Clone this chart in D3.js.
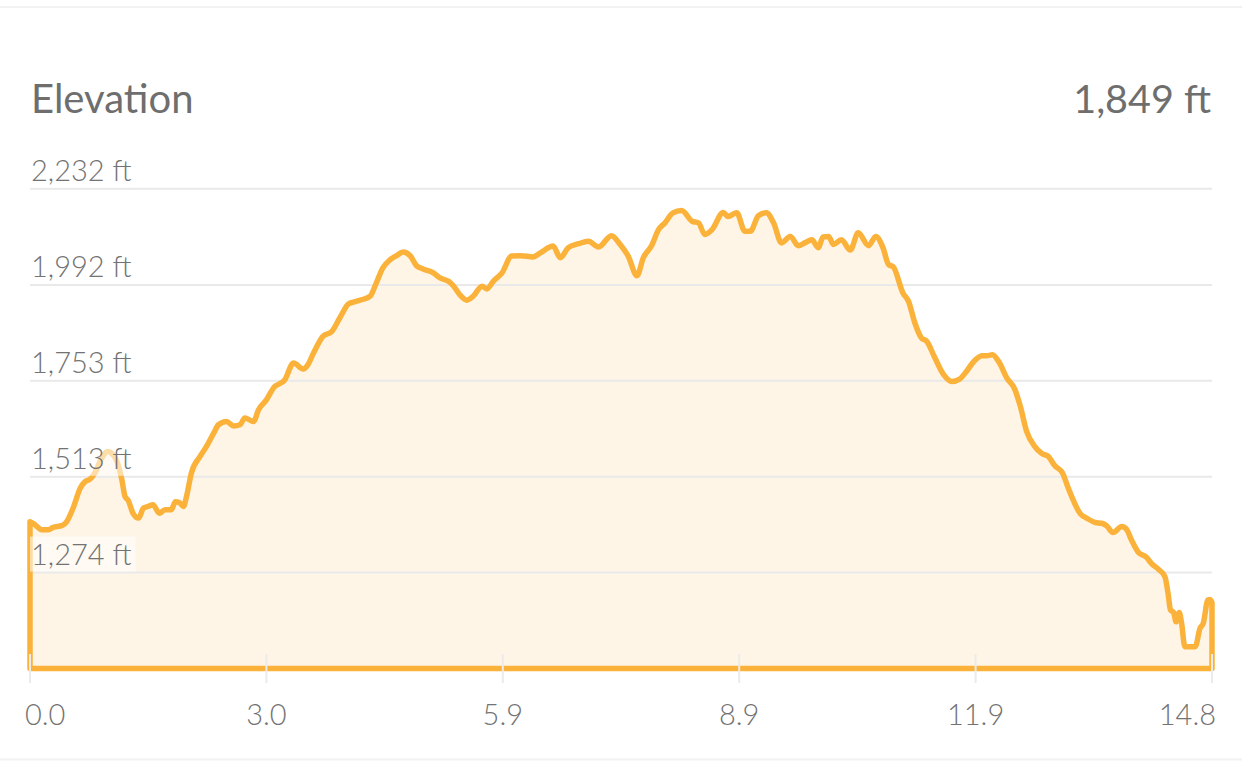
<!DOCTYPE html>
<html>
<head>
<meta charset="utf-8">
<script src="https://cdn.jsdelivr.net/npm/d3@7"></script>
<style>
  html, body { margin: 0; padding: 0; background: #ffffff; }
  svg { display: block; }
  text { font-family: Lato, "Open Sans", sans-serif; }
</style>
</head>
<body>
<svg id="chart" width="1242" height="784"></svg>
<script>
// ---- data ----
const titleText = "Elevation";
const headerValue = "1,849 ft";

const distances = [
  0, 0.04, 0.15, 0.23, 0.29, 0.40, 0.46, 0.54, 0.63, 0.69, 0.75, 0.81, 0.90, 0.97, 1.04, 1.11,
  1.15, 1.19, 1.23, 1.29, 1.36, 1.42, 1.48, 1.54, 1.62, 1.69, 1.77, 1.82, 1.87, 1.92, 1.96,
  2.02, 2.13, 2.21, 2.30, 2.36, 2.46, 2.55, 2.63, 2.69, 2.80, 2.86, 2.96, 3.05, 3.19, 3.30,
  3.42, 3.48, 3.55, 3.67, 3.78, 3.88, 3.99, 4.05, 4.15, 4.26, 4.32, 4.42, 4.51, 4.59, 4.67,
  4.76, 4.84, 4.92, 5.05, 5.13, 5.24, 5.30, 5.38, 5.47, 5.55, 5.66, 5.72, 5.80, 5.91, 6.03,
  6.14, 6.30, 6.39, 6.55, 6.64, 6.74, 6.87, 6.99, 7.12, 7.28, 7.39, 7.49, 7.60, 7.68, 7.78,
  7.87, 7.95, 8.05, 8.16, 8.29, 8.37, 8.45, 8.54, 8.68, 8.74, 8.85, 8.95, 9.02, 9.12, 9.22,
  9.31, 9.41, 9.52, 9.62, 9.70, 9.79, 9.87, 9.93, 10.00, 10.06, 10.16, 10.27, 10.37, 10.50,
  10.59, 10.68, 10.75, 10.81, 10.93, 11.00, 11.08, 11.16, 11.23, 11.33, 11.44, 11.54, 11.64,
  11.71, 11.81, 11.92, 11.98, 12.05, 12.14, 12.23, 12.33, 12.40, 12.48, 12.58, 12.67, 12.75,
  12.83, 12.93, 13.00, 13.06, 13.15, 13.23, 13.34, 13.42, 13.48, 13.56, 13.67, 13.73, 13.79,
  13.88, 13.98, 14.04, 14.13, 14.21, 14.25, 14.28, 14.32, 14.35, 14.39, 14.42, 14.46, 14.59,
  14.65, 14.69, 14.75, 14.78, 14.8
];

const elevations = [
  1401, 1397, 1381, 1381, 1387, 1391, 1401, 1435, 1485, 1501, 1507, 1522, 1560, 1576, 1568, 1539,
  1506, 1464, 1454, 1422, 1410, 1435, 1439, 1443, 1422, 1431, 1431, 1451, 1449, 1439, 1464,
  1522, 1564, 1589, 1622, 1643, 1651, 1640, 1643, 1660, 1651, 1680, 1705, 1735, 1755, 1797,
  1782, 1793, 1822, 1864, 1876, 1910, 1945, 1949, 1955, 1964, 1989, 2035, 2055, 2065, 2074,
  2065, 2040, 2032, 2022, 2010, 2001, 1990, 1968, 1954, 1964, 1989, 1982, 2001, 2022, 2064,
  2065, 2062, 2072, 2089, 2060, 2085, 2095, 2101, 2087, 2115, 2093, 2064, 2015, 2060, 2089,
  2130, 2147, 2172, 2178, 2151, 2147, 2118, 2130, 2173, 2163, 2172, 2126, 2126, 2165, 2172,
  2147, 2097, 2113, 2090, 2097, 2105, 2085, 2112, 2113, 2093, 2105, 2079, 2122, 2090,
  2113, 2085, 2043, 2037, 1972, 1951, 1897, 1860, 1851, 1810, 1768, 1751, 1757,
  1772, 1799, 1815, 1815, 1818, 1797, 1760, 1732, 1689, 1626, 1589, 1571, 1564,
  1541, 1522, 1485, 1456, 1421, 1410, 1399, 1397, 1391, 1374, 1389, 1382, 1356,
  1324, 1312, 1297, 1282, 1264, 1222, 1181, 1174, 1151, 1174, 1147, 1089, 1089,
  1135, 1147, 1206, 1206, 1199
];

const yTickValues = [2232, 1992, 1753, 1513, 1274];
const yTickLabels = ["2,232 ft", "1,992 ft", "1,753 ft", "1,513 ft", "1,274 ft"];
const xTickValues = [0, 2.96, 5.92, 8.88, 11.84, 14.8];
const xTickLabels = ["0.0", "3.0", "5.9", "8.9", "11.9", "14.8"];
const yDomain = [1034.5, 2232];
const xDomain = [0, 14.8];

(function () {
  const W = 1242;
  const plotLeft = 30, plotRight = 1212, plotTop = 188.8, plotBottom = 668.5;
  const svg = d3.select("#chart");

  const x = d3.scaleLinear().domain(xDomain).range([plotLeft, plotRight]);
  const y = d3.scaleLinear().domain(yDomain).range([plotBottom, plotTop]);

  const data = distances.map((d, i) => ({ d: d, e: elevations[i] }));

  // separators
  svg.append("line").attr("x1", 0).attr("x2", W).attr("y1", 7).attr("y2", 7)
    .attr("stroke", "#f2f2f2").attr("stroke-width", 2);
  svg.append("line").attr("x1", 0).attr("x2", W).attr("y1", 759.5).attr("y2", 759.5)
    .attr("stroke", "#f2f2f2").attr("stroke-width", 2);

  // header
  svg.append("text").attr("x", 31).attr("y", 113).attr("font-size", 40)
    .attr("fill", "#6e6e6e").text(titleText);
  svg.append("text").attr("x", 1211).attr("y", 113).attr("font-size", 39.5)
    .attr("text-anchor", "end").attr("fill", "#6e6e6e").text(headerValue);

  const area = d3.area().curve(d3.curveMonotoneX)
    .x(p => x(p.d)).y0(y(yDomain[0])).y1(p => y(p.e));

  // fill
  svg.append("path").datum(data).attr("d", area)
    .attr("fill", "#fef5e7").attr("stroke", "none");

  // gridlines
  svg.append("g").selectAll("line").data(yTickValues).join("line")
    .attr("x1", plotLeft).attr("x2", plotRight)
    .attr("y1", v => y(v)).attr("y2", v => y(v))
    .attr("stroke", "#e9e9e9").attr("stroke-width", 2);

  // outline
  svg.append("path").datum(data).attr("d", area)
    .attr("fill", "none").attr("stroke", "#fbb23a").attr("stroke-width", 5.5)
    .attr("stroke-linejoin", "round");

  // y labels with translucent backgrounds
  svg.append("g").selectAll("g").data(yTickValues).join("g").each(function (v, i) {
    const g = d3.select(this);
    const rect = g.append("rect");
    const t = g.append("text").attr("x", 31).attr("y", y(v) - 8)
      .attr("font-size", 29).attr("font-weight", 300).attr("fill", "#737373")
      .text(yTickLabels[i]);
    const bb = t.node().getBBox();
    rect.attr("x", plotLeft).attr("y", y(v) - 36).attr("width", bb.x + bb.width - plotLeft + 4)
      .attr("height", 35).attr("fill", "#ffffff").attr("fill-opacity", 0.55);
  });

  // x ticks
  svg.append("g").selectAll("line").data(xTickValues).join("line")
    .attr("x1", v => x(v)).attr("x2", v => x(v))
    .attr("y1", 654).attr("y2", 683)
    .attr("stroke", "#ebebeb").attr("stroke-width", 2);

  const last = xTickValues.length - 1;
  svg.append("g").selectAll("text").data(xTickValues).join("text")
    .attr("x", (v, i) => i === 0 ? x(v) - 5 : (i === last ? x(v) + 4 : x(v)))
    .attr("y", 725)
    .attr("text-anchor", (v, i) => i === 0 ? "start" : (i === last ? "end" : "middle"))
    .attr("font-size", 29).attr("font-weight", 300).attr("fill", "#737373")
    .text((v, i) => xTickLabels[i]);
})();
</script>
</body>
</html>
